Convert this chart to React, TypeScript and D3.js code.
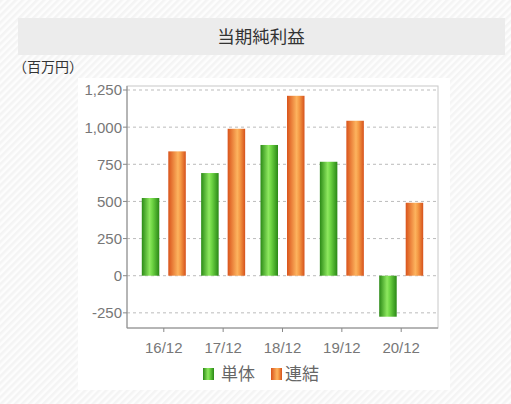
import * as d3 from "d3";

const categories = ["16/12", "17/12", "18/12", "19/12", "20/12"];
const tankai = [523, 691, 880, 767, -276];
const renketsu = [837, 989, 1211, 1043, 491];
const yTicks = [-250, 0, 250, 500, 750, 1000, 1250];
const seriesNames = ["単体", "連結"];

const W = 511;
const H = 404;
const margin = { top: 86, right: 73, bottom: 76, left: 127 };
const innerW = W - margin.left - margin.right;
const innerH = H - margin.top - margin.bottom;

const font = "'Noto Sans CJK JP', 'Noto Sans', sans-serif";
const numFont = "'Liberation Sans', Arial, sans-serif";

export default function App() {
  const y = d3.scaleLinear().domain([-352, 1277]).range([innerH, 0]);
  const x = d3.scalePoint<string>().domain(categories).range([0, innerW]).padding(0.62);
  const barW = 17.5;
  const gap = 9;
  const fmt = (v: number) => d3.format(",")(v).replace("−", "-");

  return (
    <svg width={W} height={H} style={{ position: "absolute", left: 0, top: 0, fontFamily: font }}>
      <defs>
        <pattern id="stripes" width="5" height="5" patternUnits="userSpaceOnUse" patternTransform="rotate(45)">
          <rect width="5" height="5" fill="#fdfdfd" />
          <rect width="2.5" height="5" fill="#f4f4f4" />
        </pattern>
        <linearGradient id="gGreen" x1="0" x2="1" y1="0" y2="0">
          <stop offset="0" stopColor="#2b8a16" />
          <stop offset="0.45" stopColor="#8ee85f" />
          <stop offset="0.6" stopColor="#6fd644" />
          <stop offset="1" stopColor="#2a8816" />
        </linearGradient>
        <linearGradient id="gOrange" x1="0" x2="1" y1="0" y2="0">
          <stop offset="0" stopColor="#d9531b" />
          <stop offset="0.55" stopColor="#fdb35e" />
          <stop offset="0.7" stopColor="#f59a45" />
          <stop offset="1" stopColor="#d6521c" />
        </linearGradient>
      </defs>
      <rect width={W} height={H} fill="url(#stripes)" />
      <rect x={78} y={78} width={372} height={312} fill="#ffffff" />
      <rect x={18} y={18} width={487} height={37} fill="#ececec" />
      <text x={261} y={43} textAnchor="middle" fontSize={17.5} fill="#333">当期純利益</text>
      <text x={13} y={72} fontSize={14} fill="#333">（百万円）</text>

      <g transform={`translate(${margin.left},${margin.top})`}>
        <rect x={0} y={0} width={innerW} height={innerH} fill="#fff" stroke="#c8c8c8" />
        {yTicks.map((t) => (
          <g key={t}>
            <line x1={0} x2={innerW} y1={y(t)} y2={y(t)} stroke="#bbb" strokeDasharray="3,3" />
            <line x1={-4} x2={0} y1={y(t)} y2={y(t)} stroke="#888" />
            <text x={-5} y={y(t)} dy="0.36em" textAnchor="end" fontSize={15} fill="#777" fontFamily={numFont}>
              {fmt(t)}
            </text>
          </g>
        ))}
        {categories.map((c, i) => {
          const cx = x(c)!;
          const v1 = tankai[i];
          const v2 = renketsu[i];
          return (
            <g key={c}>
              <rect
                x={cx - gap / 2 - barW}
                y={y(Math.max(0, v1))}
                width={barW}
                height={Math.abs(y(v1) - y(0))}
                fill="url(#gGreen)"
              />
              <rect
                x={cx + gap / 2}
                y={y(Math.max(0, v2))}
                width={barW}
                height={Math.abs(y(v2) - y(0))}
                fill="url(#gOrange)"
              />
              <line x1={cx} x2={cx} y1={innerH} y2={innerH + 4} stroke="#888" />
              <text x={cx} y={innerH + 25} textAnchor="middle" fontSize={15} fill="#777" fontFamily={numFont}>
                {c}
              </text>
            </g>
          );
        })}
        <line x1={0} x2={0} y1={0} y2={innerH} stroke="#888" />
        <line x1={0} x2={innerW} y1={innerH} y2={innerH} stroke="#888" />
      </g>

      <g transform="translate(203,368)">
        <rect x={0} y={0} width={11} height={12} fill="url(#gGreen)" />
        <text x={18} y={12} fontSize={17} fill="#666">{seriesNames[0]}</text>
        <rect x={68} y={0} width={11} height={12} fill="url(#gOrange)" />
        <text x={82} y={12} fontSize={17} fill="#666">{seriesNames[1]}</text>
      </g>
    </svg>
  );
}
